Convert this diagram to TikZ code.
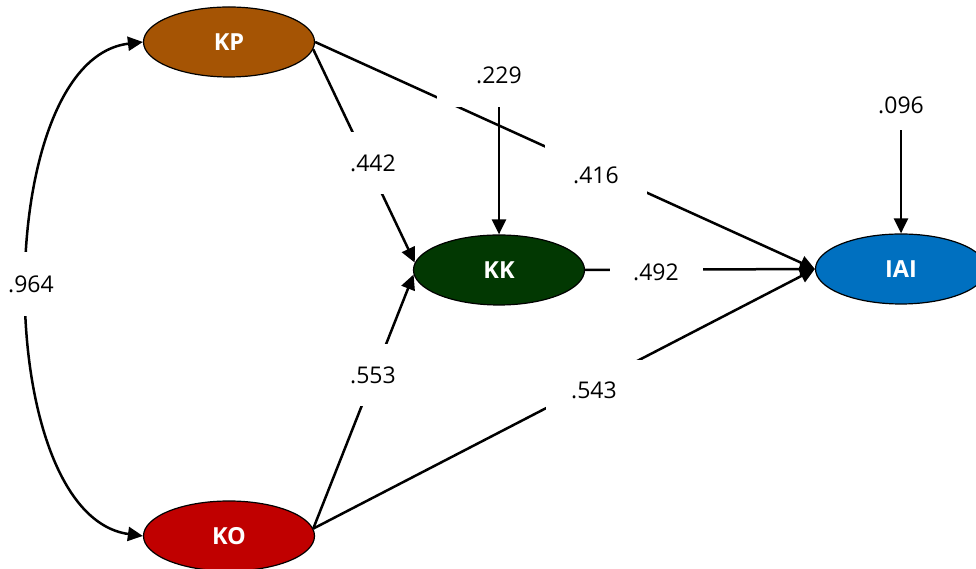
\documentclass[tikz,border=0pt]{standalone}
\usepackage{fontspec}
\setmainfont{Open Sans}
\usetikzlibrary{shapes.geometric,arrows.meta}
\pgfdeclarelayer{bg}
\pgfsetlayers{bg,main}
\definecolor{kpc}{RGB}{165,84,4}
\definecolor{kkc}{RGB}{2,56,2}
\definecolor{koc}{RGB}{192,0,0}
\definecolor{iaic}{RGB}{0,112,192}
\begin{document}
\begin{tikzpicture}[x=1pt,y=1pt,
  lv/.style={ellipse,draw=black,line width=1.2pt,minimum width=171pt,minimum height=70pt,inner sep=0pt,text=white,font=\fontsize{23.5}{28}\selectfont\bfseries},
  coef/.style={fill=white,inner sep=0pt,font=\fontsize{23}{28}\selectfont},
  tip/.tip={Triangle[length=15pt,width=14pt]},
  conn/.style={line width=2.5pt,-tip}
]
\useasboundingbox (0,0) rectangle (976,569);
\node[lv,fill=kpc] (KP) at (229,527) {KP};
\node[lv,fill=kkc] (KK) at (499,299) {KK};
\node[lv,fill=koc] (KO) at (229,33) {KO};
\node[lv,fill=iaic] (IAI) at (901,300) {IAI};

\node[coef,minimum width=124pt,minimum height=64pt] (c229) at (499,494) {.229};
\node[coef,minimum width=50pt,minimum height=50pt] (c096) at (901,464) {.096};
\node[coef,minimum width=50pt,minimum height=62pt] (c442) at (373,406) {.442};
\node[coef,minimum width=102pt,minimum height=66pt] (c416) at (596,394) {.416};
\node[coef,minimum width=60pt,minimum height=64pt] (c964) at (31,285) {.964};
\node[coef,minimum width=93pt,minimum height=40pt] (c492) at (656,297) {.492};
\node[coef,minimum width=50pt,minimum height=62pt] (c553) at (373,194) {.553};
\node[coef,minimum width=97pt,minimum height=60pt] (c543) at (594,179) {.543};

\begin{pgfonlayer}{bg}
\draw[conn] (KP.east) -- (IAI.west);
\draw[conn] (KP.355) -- (KK.175);
\draw[conn] (KO.5) -- (KK.183);
\draw[conn] (KO.5) -- (IAI.west);
\draw[conn] (KK.east) -- (IAI.west);
\draw[conn] (c229.south) -- (KK.north);
\draw[conn] (c096.south) -- (IAI.north);
\draw[line width=2.5pt,tip-tip] (KP.west) .. controls (-10,509) and (-10,54) .. (KO.west);
\end{pgfonlayer}
\end{tikzpicture}
\end{document}
